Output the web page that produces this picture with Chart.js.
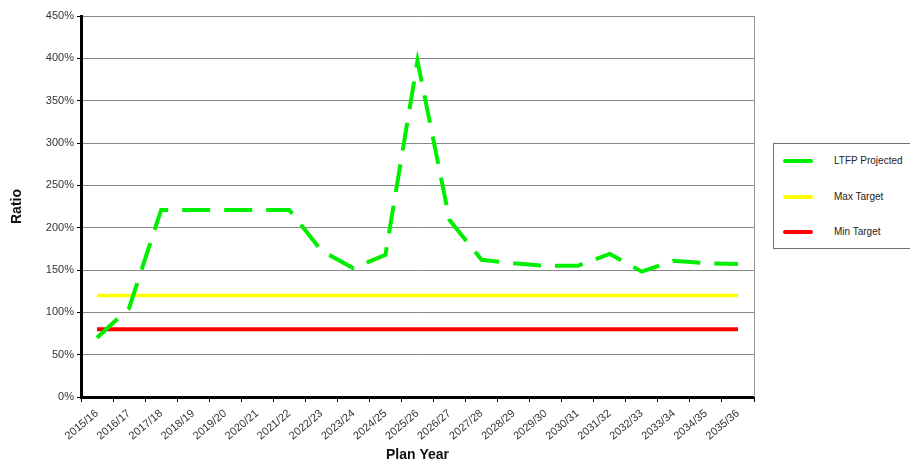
<!DOCTYPE html>
<html>
<head>
<meta charset="utf-8">
<script src="https://cdn.jsdelivr.net/npm/chart.js@4"></script>
<style>
  html, body { margin: 0; padding: 0; background: #fff; overflow: hidden; }
  #wrap { position: relative; width: 910px; height: 466px; }
  #legend {
    position: absolute; left: 773px; top: 143px; width: 150px; height: 106px;
    border: 1px solid #707070; box-sizing: border-box; background: #fff;
    font-family: "Liberation Sans", Arial, sans-serif; font-size: 10px; color: #222;
  }
  .item { position: absolute; left: 0; height: 12px; }
  .item span.swatch { position: absolute; left: 9px; top: 4px; width: 30px; height: 4px; border-radius: 2px; }
  .item span.label { position: absolute; left: 60px; top: 0; white-space: nowrap; }
</style>
</head>
<body>
<div id="wrap">
  <canvas id="chart" width="910" height="466"></canvas>
  <div id="legend"></div>
</div>
<script>
// categorias del eje x
const planYears = ["2015/16", "2016/17", "2017/18", "2018/19", "2019/20", "2020/21", "2021/22",
  "2022/23", "2023/24", "2024/25", "2025/26", "2026/27", "2027/28", "2028/29", "2029/30",
  "2030/31", "2031/32", "2032/33", "2033/34", "2034/35", "2035/36"];

// valores (%)
const ltfpProjected = [70, 105, 221, 221, 221, 221, 221, 173, 152, 168, 397, 209, 162, 158, 155, 155, 169, 148, 161, 158, 157];
const maxTarget = planYears.map(() => 120);
const minTarget = planYears.map(() => 80);

const seriesNames = ["LTFP Projected", "Max Target", "Min Target"];
const seriesColors = ["#00ee00", "#ffff00", "#ff0000"];

// borde derecho del area de trazado
const rightBorder = {
  id: "rightBorder",
  afterDraw(chart) {
    const { ctx, chartArea } = chart;
    ctx.save();
    ctx.strokeStyle = "#999";
    ctx.lineWidth = 1;
    ctx.beginPath();
    ctx.moveTo(chartArea.right + 0.5, chartArea.top);
    ctx.lineTo(chartArea.right + 0.5, chartArea.bottom);
    ctx.stroke();
    ctx.restore();
  }
};

let font = "'Liberation Sans', Arial, sans-serif";

let config = {
  type: "line",
  data: {
    labels: planYears,
    datasets: [
      { label: seriesNames[0], data: ltfpProjected, borderColor: seriesColors[0], borderWidth: 4, borderDash: [28, 14], pointRadius: 0, tension: 0 },
      { label: seriesNames[1], data: maxTarget, borderColor: seriesColors[1], borderWidth: 3.5, pointRadius: 0 },
      { label: seriesNames[2], data: minTarget, borderColor: seriesColors[2], borderWidth: 4, pointRadius: 0 },
    ],
  },
  options: {
    responsive: false,
    animation: false,
    layout: { padding: { left: 0, right: 156, top: 16, bottom: 0 } },
    plugins: { legend: { display: false }, tooltip: { enabled: false } },
    scales: {
      x: {
        offset: true,
        afterFit: (scale) => { scale.height = 69; },
        grid: { display: true, drawOnChartArea: false, offset: true, color: "#000", tickLength: 5 },
        border: { display: true, color: "#000", width: 3 },
        ticks: { minRotation: 40, maxRotation: 40, color: "#333", font: { family: font, size: 11 }, padding: 5 },
        title: { display: true, text: "Plan Year", color: "#111", font: { family: font, size: 14, weight: "bold" }, padding: { top: 0, bottom: 2 } },
      },
      y: {
        min: 0,
        max: 450,
        afterFit: (scale) => { scale.width = 81; },
        ticks: { stepSize: 50, callback: (v) => v + "%", color: "#333", font: { family: font, size: 11 }, padding: 3 },
        grid: { color: "#888", tickColor: "#000", tickLength: 4, lineWidth: 1 },
        border: { display: true, color: "#000", width: 3 },
        title: { display: true, text: "Ratio", color: "#111", font: { family: font, size: 14, weight: "bold" }, padding: { top: 9, bottom: 0 } },
      },
    },
  },
  plugins: [rightBorder],
};

let chart1 = new Chart(document.getElementById("chart"), config);

// leyenda con recuadro, construida a partir de los datasets
let legendRef = document.getElementById("legend");
let itemTops = [11, 47, 82];
chart1.data.datasets.forEach((ds, i) => {
  let item = document.createElement("div");
  item.className = "item";
  item.style.top = itemTops[i] + "px";
  item.innerHTML = `<span class="swatch" style="background:${ds.borderColor}"></span><span class="label">${ds.label}</span>`;
  legendRef.appendChild(item);
});
</script>
</body>
</html>
